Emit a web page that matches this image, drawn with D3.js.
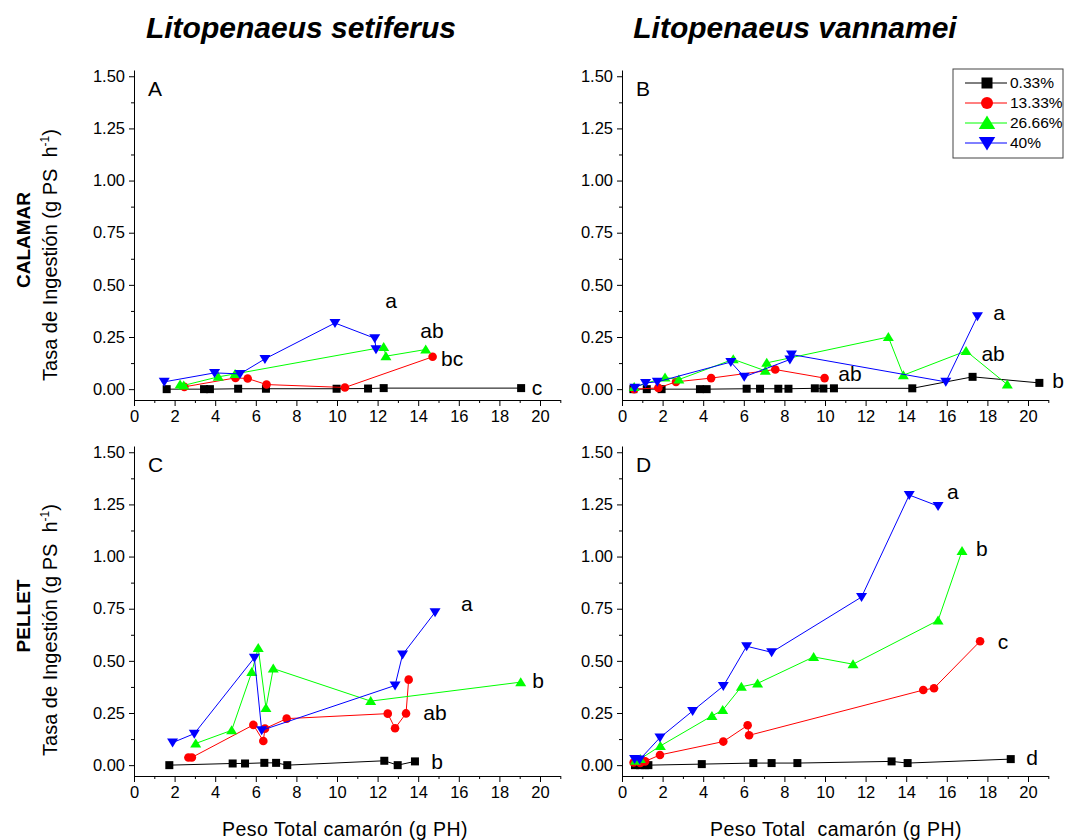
<!DOCTYPE html>
<html>
<head>
<meta charset="utf-8">
<script src="https://cdnjs.cloudflare.com/ajax/libs/d3/7.8.5/d3.min.js"></script>
<style>
body { margin: 0; background: #fff; }
svg text { font-family: "Liberation Sans", Arial, sans-serif; }
</style>
</head>
<body>
<div id="chart"></div>
<script>
// series (salinity / ration levels) shown in every panel
const seriesNames = ["0.33%", "13.33%", "26.66%", "40%"];

// A - L. setiferus, calamar  [peso (g PH), tasa (g PS h-1)]
const setCal033 = [[1.61,0.000],[3.45,0.000],[3.74,0.000],[5.13,0.002],[6.50,0.002],[9.98,0.002],[11.53,0.003],[12.30,0.005],[19.07,0.005]];
const setCal1333 = [[2.48,0.011],[5.00,0.054],[5.60,0.051],[6.53,0.022],[10.39,0.008],[14.71,0.155]];
const setCal2666 = [[2.27,0.022],[2.45,0.018],[4.15,0.059],[4.98,0.073],[12.30,0.202],[12.41,0.158],[14.37,0.190]];
const setCal40 = [[1.49,0.035],[3.97,0.078],[5.22,0.073],[6.45,0.145],[9.90,0.317],[11.86,0.244],[11.92,0.191]];

// B - L. vannamei, calamar
const vanCal033 = [[0.56,0.000],[1.22,0.000],[1.95,0.000],[3.84,0.000],[4.17,0.000],[6.14,0.002],[6.80,0.002],[7.70,0.002],[8.20,0.002],[9.50,0.004],[9.92,0.003],[10.44,0.004],[14.30,0.004],[17.27,0.059],[20.56,0.030]];
const vanCal1333 = [[0.60,0.000],[1.79,0.006],[2.66,0.035],[4.39,0.053],[7.55,0.094],[9.98,0.053]];
const vanCal2666 = [[0.60,0.010],[2.12,0.056],[2.80,0.046],[5.48,0.143],[7.06,0.088],[7.13,0.126],[13.12,0.250],[13.86,0.067],[16.95,0.183],[18.98,0.022]];
const vanCal40 = [[0.63,0.007],[1.16,0.030],[1.74,0.035],[5.36,0.130],[6.02,0.059],[8.27,0.142],[8.35,0.166],[15.95,0.035],[17.51,0.350]];

// C - L. setiferus, pellet
const setPel033 = [[1.74,0.000],[4.86,0.008],[5.47,0.008],[6.42,0.011],[7.00,0.011],[7.55,0.000],[12.33,0.021],[12.99,0.000],[13.84,0.018]];
const setPel1333 = [[2.68,0.037],[2.85,0.037],[5.88,0.193],[6.37,0.116],[6.45,0.175],[7.52,0.223],[12.50,0.247],[12.86,0.177],[13.40,0.248],[13.53,0.410]];
const setPel2666 = [[3.04,0.104],[4.81,0.167],[5.80,0.446],[6.12,0.562],[6.50,0.274],[6.86,0.463],[11.66,0.307],[19.05,0.398]];
const setPel40 = [[1.90,0.108],[2.97,0.151],[5.93,0.515],[6.29,0.167],[12.86,0.382],[13.23,0.530],[14.83,0.733]];

// D - L. vannamei, pellet
const vanPel033 = [[0.64,0.000],[0.89,0.000],[1.14,0.000],[1.30,0.000],[3.93,0.005],[6.47,0.010],[7.37,0.010],[8.64,0.010],[13.28,0.018],[14.07,0.010],[19.15,0.029]];
const vanPel1333 = [[0.57,0.013],[0.90,0.010],[1.14,0.018],[1.87,0.049],[4.99,0.113],[6.19,0.191],[6.26,0.143],[14.84,0.360],[15.37,0.369],[17.64,0.594]];
const vanPel2666 = [[0.66,0.021],[0.90,0.030],[1.89,0.092],[4.43,0.236],[4.96,0.264],[5.88,0.376],[6.68,0.392],[9.44,0.519],[11.38,0.484],[15.57,0.694],[16.75,1.027]];
const vanPel40 = [[0.62,0.029],[0.87,0.027],[1.87,0.132],[3.48,0.260],[4.99,0.379],[6.14,0.570],[7.37,0.541],[11.80,0.806],[14.15,1.295],[15.57,1.242]];

// significance letters [x, y, text]
const lettersA = [[12.66,0.426,"a"],[14.68,0.282,"ab"],[15.67,0.148,"bc"],[19.85,0.005,"c"]];
const lettersB = [[18.57,0.368,"a"],[18.28,0.172,"ab"],[11.23,0.072,"ab"],[21.48,0.043,"b"]];
const lettersC = [[16.40,0.774,"a"],[19.90,0.406,"b"],[14.83,0.253,"ab"],[14.93,0.019,"b"]];
const lettersD = [[16.30,1.309,"a"],[17.73,1.037,"b"],[18.77,0.592,"c"],[20.20,0.038,"d"]];

const xTicks = [0,2,4,6,8,10,12,14,16,18,20];
const xMinor = [1,3,5,7,9,11,13,15,17,19,21];
const yTicks = [0,0.25,0.5,0.75,1,1.25,1.5];
const yMinor = [0.125,0.375,0.625,0.875,1.125,1.375];

const colors = ["#000000", "#ff0000", "#00ff00", "#0000ff"];
const shapes = ["square", "circle", "up", "down"];

const w = 1075, h = 840;
const svg = d3.select("#chart").append("svg").attr("width", w).attr("height", h);

function marker(g, shape, s, color) {
  if (shape == "square") {
    g.append("rect").attr("x", -s / 2).attr("y", -s / 2).attr("width", s).attr("height", s).attr("fill", color);
  } else if (shape == "circle") {
    g.append("circle").attr("r", s / 2).attr("fill", color);
  } else if (shape == "up") {
    g.append("path").attr("d", "M0," + (-s * 0.5) + "L" + (s * 0.55) + "," + (s * 0.4) + "L" + (-s * 0.55) + "," + (s * 0.4) + "Z").attr("fill", color);
  } else {
    g.append("path").attr("d", "M0," + (s * 0.5) + "L" + (s * 0.55) + "," + (-s * 0.4) + "L" + (-s * 0.55) + "," + (-s * 0.4) + "Z").attr("fill", color);
  }
}

const panels = [
  {name: "A", left: 134, bottom: 400, series: [setCal033, setCal1333, setCal2666, setCal40], letters: lettersA},
  {name: "B", left: 622, bottom: 400, series: [vanCal033, vanCal1333, vanCal2666, vanCal40], letters: lettersB},
  {name: "C", left: 134, bottom: 776, series: [setPel033, setPel1333, setPel2666, setPel40], letters: lettersC},
  {name: "D", left: 622, bottom: 776, series: [vanPel033, vanPel1333, vanPel2666, vanPel40], letters: lettersD}
];

const plotW = 426.3, plotH = 330;
const markerSizes = [8, 8.6, 10, 10];

panels.forEach(function (p) {
  const x = d3.scaleLinear().domain([0, 21]).range([p.left, p.left + plotW]);
  const y = d3.scaleLinear().domain([-0.052, 1.53]).range([p.bottom, p.bottom - plotH]);
  const g = svg.append("g");

  // y axis
  g.append("g").attr("transform", "translate(" + p.left + ",0)")
    .call(d3.axisLeft(y).tickValues(yTicks).tickFormat(d3.format(".2f")).tickSize(5).tickSizeOuter(0).tickPadding(4))
    .attr("font-size", 16.5).attr("font-family", null);
  g.append("g").attr("transform", "translate(" + p.left + ",0)")
    .call(d3.axisLeft(y).tickValues(yMinor).tickFormat("").tickSize(3))
    .call(a => a.select(".domain").remove());

  // x axis
  g.append("g").attr("transform", "translate(0," + p.bottom + ")")
    .call(d3.axisBottom(x).tickValues(xTicks).tickSize(6).tickSizeOuter(0).tickPadding(4))
    .attr("font-size", 16.5).attr("font-family", null);
  g.append("g").attr("transform", "translate(0," + p.bottom + ")")
    .call(d3.axisBottom(x).tickValues(xMinor).tickFormat("").tickSize(3))
    .call(a => a.select(".domain").remove());

  const line = d3.line().x(d => x(d[0])).y(d => y(d[1]));

  p.series.forEach(function (s, i) {
    g.append("path").datum(s).attr("d", line)
      .attr("fill", "none").attr("stroke", colors[i]).attr("stroke-width", 1);
    g.selectAll(".m" + i).data(s).enter().append("g")
      .attr("class", "m" + i)
      .attr("transform", d => "translate(" + x(d[0]) + "," + y(d[1]) + ")")
      .each(function () { marker(d3.select(this), shapes[i], markerSizes[i], colors[i]); });
  });

  g.selectAll(".sig").data(p.letters).enter().append("text")
    .attr("class", "sig")
    .attr("x", d => x(d[0])).attr("y", d => y(d[1]))
    .attr("dy", "0.35em").attr("text-anchor", "middle")
    .attr("font-size", 21).text(d => d[2]);

  g.append("text").attr("x", p.left + 14).attr("y", p.bottom - plotH + 26)
    .attr("font-size", 21).text(p.name);
});

// column titles
svg.append("text").attr("x", 301).attr("y", 38).attr("text-anchor", "middle")
  .attr("font-size", 30).attr("font-weight", "bold").attr("font-style", "italic")
  .text("Litopenaeus setiferus");
svg.append("text").attr("x", 795).attr("y", 38).attr("text-anchor", "middle")
  .attr("font-size", 30).attr("font-weight", "bold").attr("font-style", "italic")
  .text("Litopenaeus vannamei");

// row titles
[["CALAMAR", 240, 255], ["PELLET", 616, 630]].forEach(function (r) {
  svg.append("text").attr("transform", "translate(30," + r[1] + ") rotate(-90)")
    .attr("text-anchor", "middle").attr("font-size", 19).attr("font-weight", "bold")
    .text(r[0]);
  const t = svg.append("text").attr("transform", "translate(57," + r[2] + ") rotate(-90)")
    .attr("text-anchor", "middle").attr("font-size", 20).style("white-space", "pre");
  t.append("tspan").text("Tasa de Ingestión (g PS  h");
  t.append("tspan").attr("dy", -8).attr("font-size", 12).text("-1");
  t.append("tspan").attr("dy", 8).text(")");
});

// x titles
svg.append("text").attr("x", 345).attr("y", 836).attr("text-anchor", "middle")
  .attr("font-size", 19.5).attr("letter-spacing", 0.5).text("Peso Total camarón (g PH)");
svg.append("text").attr("x", 836).attr("y", 836).attr("text-anchor", "middle")
  .attr("font-size", 19.5).attr("letter-spacing", 0.5).style("white-space", "pre")
  .text("Peso Total  camarón (g PH)");

// legend
const leg = svg.append("g").attr("transform", "translate(953,69)");
leg.append("rect").attr("width", 110).attr("height", 89)
  .attr("fill", "#fff").attr("stroke", "#444").attr("stroke-width", 1);
const legSizes = [11, 12, 15, 15];
seriesNames.forEach(function (n, i) {
  const ly = 14 + i * 20;
  leg.append("line").attr("x1", 12).attr("x2", 54).attr("y1", ly).attr("y2", ly)
    .attr("stroke", colors[i]).attr("stroke-width", 1);
  const mg = leg.append("g").attr("transform", "translate(34," + ly + ")");
  marker(mg, shapes[i], legSizes[i], colors[i]);
  leg.append("text").attr("x", 57).attr("y", ly).attr("dy", "0.35em")
    .attr("font-size", 15.5).text(n);
});
</script>
</body>
</html>
